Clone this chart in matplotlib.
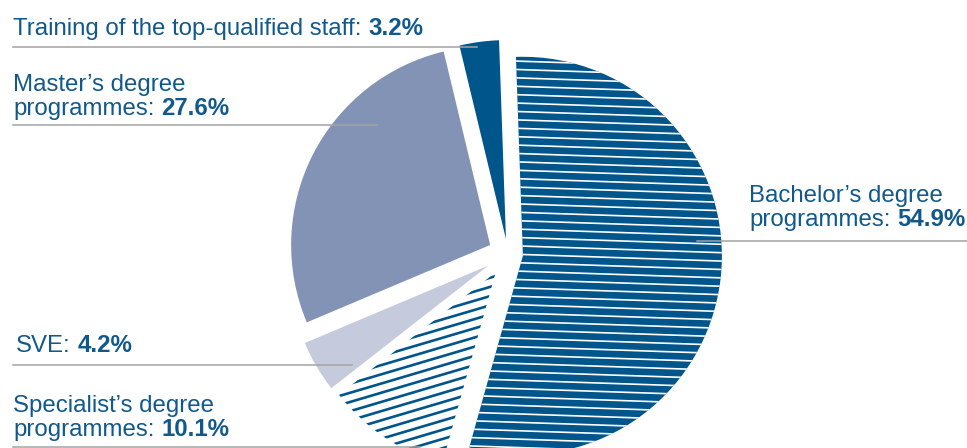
import numpy as np
import matplotlib.pyplot as plt
from matplotlib.collections import LineCollection

# Shares of students by programme type, clockwise from the top
names = ["Bachelor’s degree programmes", "Specialist’s degree programmes", "SVE",
         "Master’s degree programmes", "Training of the top-qualified staff"]
shares = [54.9, 10.1, 4.2, 27.6, 3.2]

# label text broken into lines (last line gets ": value%")
label_lines = [["Bachelor’s degree", "programmes"],
               ["Specialist’s degree", "programmes"],
               ["SVE"],
               ["Master’s degree", "programmes"],
               ["Training of the top-qualified staff"]]

BLUE = "#00558b"
MASTER = "#8393b5"
SVE_C = "#c5cadd"
TEXT = "#11598c"
GREY = "#a3a3a3"

W, H = 967, 448
plt.rcParams['font.family'] = ['Liberation Sans', 'DejaVu Sans']
FS = 17.3

fig = plt.figure(figsize=(W / 100, H / 100), dpi=100)
ax = fig.add_axes([0, 0, 1, 1])

def py(y):
    # pixel row (top down) -> data y
    return H - y

cx, cy, R = 508, py(254), 199
# explode is in data units here (pixels), not a fraction of the radius
wedges, _ = ax.pie(shares, colors=["white", "white", SVE_C, MASTER, BLUE],
                   explode=[15, 22, 23, 20, 15], startangle=92,
                   counterclock=False, center=(cx, cy), radius=R,
                   wedgeprops=dict(linewidth=0), frame=True)
wedges[0].set_facecolor(BLUE)

# white near-horizontal stripes over the bachelor slice
tilt = np.tan(np.radians(-1.9))
segs = []
for k in np.arange(-32, 32):
    y0 = cy + k * 8.4
    segs.append([(cx - 260, y0 - tilt * 260), (cx + 260, y0 + tilt * 260)])
lc = LineCollection(segs, colors="white", linewidths=1.2, zorder=3)
ax.add_collection(lc)
lc.set_clip_path(wedges[0])

# blue slanted stripes on the specialist slice
slope = np.tan(np.radians(16.5))
segs = []
for k in np.arange(-40, 40):
    y0 = cy + k * 9.2
    segs.append([(cx - 300, y0 - slope * 300), (cx + 300, y0 + slope * 300)])
lc2 = LineCollection(segs, colors=BLUE, linewidths=1.9, zorder=3)
ax.add_collection(lc2)
lc2.set_clip_path(wedges[1])

# label positions: x, first baseline (pixels), leader line (y, x0, x1)
label_pos = [(749, 202, (241, 697, 967)),
             (13, 412, (447, 13, 420)),
             (16, 352, (365, 13, 352)),
             (13, 91, (124.5, 13, 377)),
             (13, 35, (46.5, 13, 477))]

for lines, val, (tx, ty, (ly, lx0, lx1)) in zip(label_lines, shares, label_pos):
    for i, line in enumerate(lines):
        last = i == len(lines) - 1
        t = ax.text(tx, py(ty + i * 24), line + (":" if last else ""),
                    fontsize=FS, color=TEXT, ha="left", va="baseline")
        if last:
            ax.annotate(f"{val}%", xy=(1, 0), xycoords=t,
                        xytext=(0.278 * FS, 0), textcoords="offset points",
                        fontsize=FS, color=TEXT, fontweight="bold",
                        ha="left", va="bottom")
    ax.plot([lx0, lx1], [py(ly), py(ly)], color=GREY, lw=1.1, zorder=4)

ax.set_xlim(0, W)
ax.set_ylim(0, H)
ax.set_aspect("auto")
ax.axis("off")

fig.savefig("out.png", dpi=100)
